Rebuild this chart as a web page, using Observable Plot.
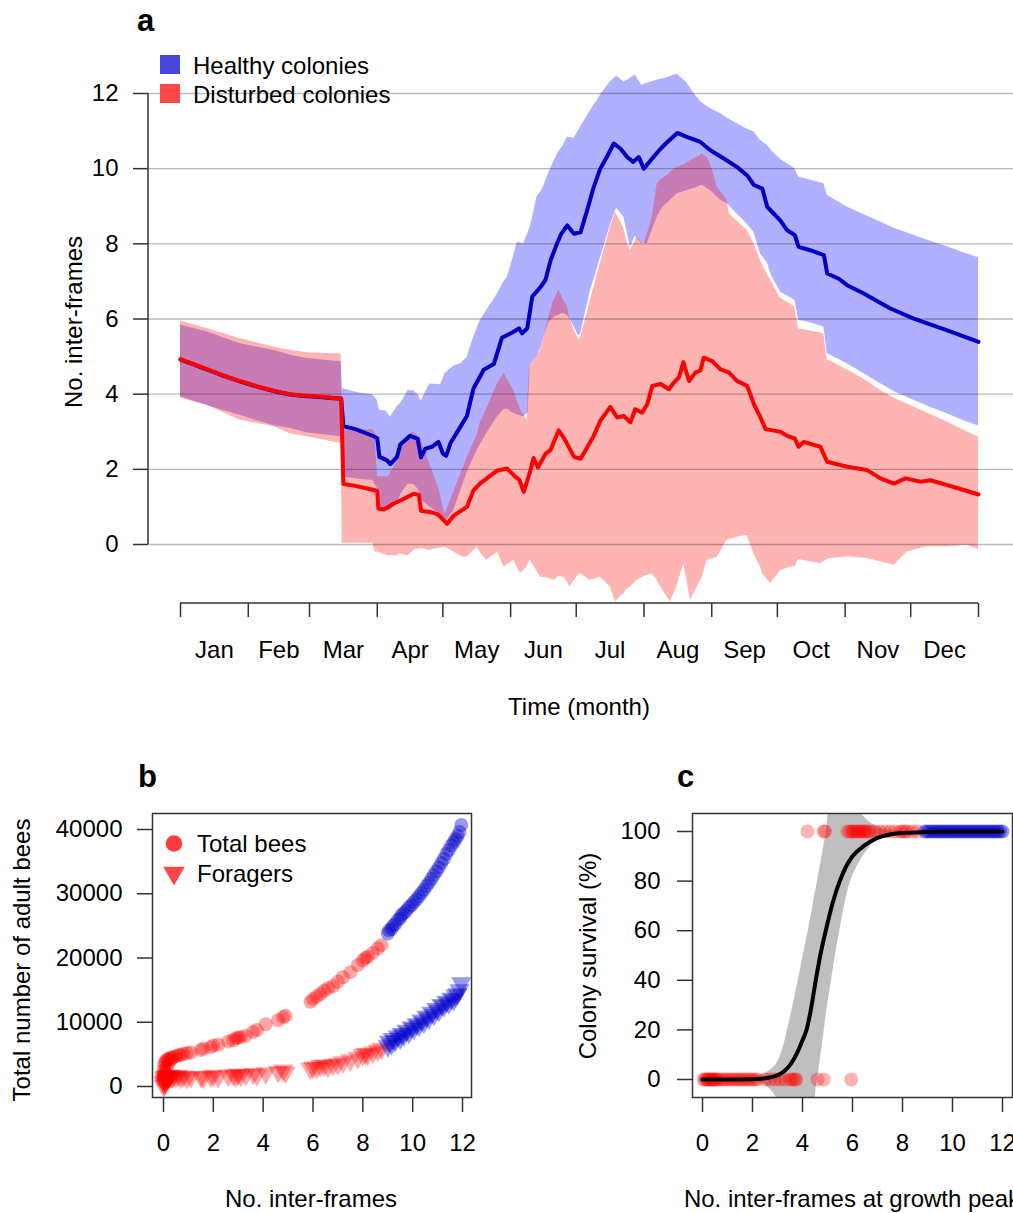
<!DOCTYPE html>
<html><head><meta charset="utf-8">
<script src="https://cdn.jsdelivr.net/npm/d3@7"></script>
<script src="https://cdn.jsdelivr.net/npm/@observablehq/plot@0.6"></script>
<style>
html,body{margin:0;padding:0;background:#fff;overflow:hidden;}
#wrap{position:relative;width:1013px;height:1213px;overflow:hidden;background:#fff;}
#wrap svg{position:absolute;max-width:none;overflow:visible;}
</style></head><body><div id="wrap"></div>
<script>
// ---------- Panel a data ----------
const monthLabels = ["Jan","Feb","Mar","Apr","May","Jun","Jul","Aug","Sep","Oct","Nov","Dec"];
const monthStarts = [0,31,59,90,120,151,181,212,243,273,304,334,365];
const monthMids = [15.5,45,74.5,105,135.5,166,196.5,227.5,258,288.5,319,349.5];
const yTicksA = [0,2,4,6,8,10,12];

// [day, mean]
const healthyMean = [[0,4.92],[5,4.81],[10,4.70],[15,4.59],[20,4.48],[25,4.38],[30,4.29],[35,4.20],[40,4.12],[45,4.05],[50,3.99],[55,3.96],[60,3.94],[65,3.92],[70,3.89],[73.5,3.88],[74.5,3.15],[80,3.07],[88.4,2.88],[90,2.82],[91,2.33],[94.5,2.24],[96,2.14],[99,2.33],[100.6,2.67],[105,2.89],[108.5,2.81],[110,2.32],[112,2.55],[115,2.6],[118,2.73],[120,2.42],[121.5,2.36],[123.5,2.7],[128,3.13],[131,3.42],[134,4.15],[138.7,4.65],[143.3,4.8],[147,5.5],[152.4,5.66],[154.8,5.75],[156.3,5.62],[158.6,5.75],[160.9,6.6],[164.7,6.85],[167,7.05],[169.2,7.55],[171.5,7.9],[174,8.25],[176.9,8.49],[180,8.27],[183,8.31],[186,8.89],[189,9.51],[192,10.0],[195,10.31],[198.2,10.67],[201.3,10.53],[204.3,10.31],[207,10.18],[209.6,10.31],[211.9,10.0],[215,10.22],[219.6,10.53],[222,10.67],[227.2,10.95],[231.8,10.84],[237.8,10.71],[242.4,10.49],[248.5,10.27],[254.6,10.04],[259.2,9.82],[262.3,9.56],[266.1,9.47],[268.4,8.98],[271.4,8.8],[274.4,8.62],[277.5,8.36],[281,8.23],[282.7,7.92],[288,7.83],[294.3,7.70],[295.8,7.21],[301.1,7.07],[304.9,6.90],[312.5,6.68],[324.7,6.28],[335.4,6.01],[350.7,5.70],[365,5.39]];

// [day, lower, upper]
const healthyBand = [[0,3.93,5.84],[12,3.70,5.66],[27,3.44,5.35],[43,3.15,5.16],[50,3.09,5.04],[58,2.97,4.95],[73.5,2.87,4.86],[74,1.8,4.15],[80,1.75,4.05],[88,1.7,3.98],[90,1.5,3.84],[91,0.95,3.58],[94,0.91,3.55],[96,0.9,3.39],[99,1.1,3.66],[101,1.35,3.78],[104,1.6,4.09],[106.7,1.6,4.09],[109,1.45,3.96],[110,1.2,3.82],[114,1.0,4.27],[119,0.8,4.25],[121,0.6,4.55],[125,0.9,4.75],[128,1.4,4.80],[131,1.9,4.97],[134,2.3,5.50],[137,2.65,5.95],[140,2.95,6.22],[145,3.4,6.67],[148,3.6,7.0],[149.5,3.6,7.11],[152,3.5,7.6],[154,3.45,8.04],[157,3.4,8.0],[159,3.5,8.3],[160,4.75,8.44],[163,5.0,9.24],[165,5.25,9.4],[166,5.5,9.51],[168.5,5.9,9.9],[171,6.05,10.22],[173,6.1,10.45],[175,6.15,10.6],[177,6.1,10.84],[180,5.8,10.8],[182,5.55,11.0],[183,5.6,11.11],[187.5,6.75,11.54],[192,7.6,11.95],[196.6,8.5,12.31],[199.5,8.95,12.46],[202.8,8.7,12.31],[205.8,7.9,12.4],[208,8.2,12.49],[211,8.0,12.22],[213.5,8.0,12.27],[218,8.71,12.35],[221,9.0,12.4],[222.6,9.07,12.42],[227.2,9.33,12.52],[231.8,9.42,12.27],[234.8,9.47,12.0],[238.6,9.56,11.75],[242.4,9.42,11.6],[247,9.16,11.47],[250,9.07,11.35],[253,8.89,11.25],[259.2,8.53,11.05],[262.3,8.3,10.98],[265.3,7.73,10.75],[268.4,7.5,10.62],[270,7.2,10.5],[274.4,6.72,10.25],[281,6.5,10.0],[282.7,5.97,9.78],[288,5.9,9.7],[294.3,5.79,9.6],[295.8,5.08,9.29],[304.9,4.81,8.98],[312.5,4.55,8.78],[320.2,4.28,8.58],[327,4.05,8.4],[335.4,3.84,8.23],[343,3.65,8.07],[350.7,3.48,7.92],[358,3.3,7.77],[365,3.15,7.63]];

const disturbedMean = [[0,4.93],[5,4.82],[10,4.71],[15,4.60],[20,4.49],[25,4.39],[30,4.30],[35,4.21],[40,4.13],[45,4.06],[50,4.00],[55,3.97],[60,3.95],[65,3.93],[70,3.90],[73.5,3.89],[74.5,1.61],[80,1.56],[88.4,1.45],[90,1.42],[90.5,0.96],[93,0.93],[95,1.0],[97.6,1.09],[100.6,1.17],[103.7,1.26],[106.7,1.35],[109,1.32],[110,0.90],[114.4,0.86],[117.5,0.81],[119,0.73],[122,0.55],[125,0.77],[131,1.0],[134,1.44],[137,1.62],[141,1.8],[145,1.97],[149.4,2.02],[153.2,1.8],[155,1.72],[157,1.4],[160,1.96],[161.5,2.3],[163.5,2.05],[167,2.42],[169.2,2.51],[173,3.04],[176,2.77],[180,2.33],[183,2.28],[186,2.58],[189,2.89],[192,3.29],[196.6,3.66],[199.7,3.38],[202.8,3.42],[205.8,3.25],[208,3.6],[211.2,3.51],[213.5,3.73],[215.8,4.22],[219.6,4.27],[223.4,4.13],[225.7,4.31],[228,4.45],[230,4.85],[232.6,4.35],[235.6,4.58],[237.8,4.63],[239.3,4.97],[243.2,4.88],[247,4.66],[250.8,4.58],[254.6,4.35],[259.2,4.22],[262.3,3.73],[265.3,3.38],[267.6,3.07],[271.4,3.03],[274.4,3.0],[277.5,2.89],[281,2.82],[282.7,2.6],[285,2.73],[292.7,2.6],[295.8,2.2],[304.9,2.07],[314,1.98],[320.2,1.76],[326.3,1.62],[331.6,1.76],[338.5,1.67],[343,1.71],[350.7,1.58],[358.3,1.45],[365,1.33]];

const disturbedBand = [[0,3.89,5.95],[12,3.71,5.75],[27,3.31,5.48],[43,3.13,5.25],[50,2.95,5.17],[58,2.87,5.1],[73.5,2.69,5.07],[74,0.03,3.05],[88,0.03,3.05],[89,-0.2,3.0],[90,-0.2,1.8],[95,-0.3,1.8],[99,-0.3,2.2],[100.6,-0.25,2.5],[104,-0.3,2.9],[106.7,-0.16,3.0],[110,-0.1,2.8],[114,-0.16,2.14],[118,-0.1,1.52],[121,-0.07,0.8],[125,-0.2,1.4],[129.5,-0.34,2.06],[131,-0.34,2.3],[135.7,-0.07,2.9],[137,-0.2,3.22],[140,-0.42,3.6],[145,-0.2,4.28],[148,-0.6,4.55],[152.4,-0.42,4.1],[155.5,-0.78,3.6],[158.5,-0.6,3.3],[159.5,-0.45,4.6],[160,-0.42,4.73],[164.7,-0.87,5.17],[168.5,-0.9,6.06],[170.8,-0.96,6.5],[173,-0.85,6.77],[175.3,-0.87,6.5],[177,-1.0,6.33],[178,-1.13,6.0],[182.2,-0.8,5.44],[183,-0.78,5.5],[187.5,-0.96,6.5],[192,-0.87,7.48],[196.6,-1.13,8.44],[199,-1.53,8.84],[201,-1.4,8.62],[202.8,-1.31,8.4],[204,-1.2,8.09],[205.8,-1.13,7.82],[208.8,-0.96,8.18],[212,-0.85,7.96],[215.8,-0.78,8.71],[218,-0.95,9.6],[219.6,-1.13,9.7],[222.6,-1.4,9.82],[224,-1.53,9.9],[227,-1.13,10.04],[230.2,-0.51,10.1],[233.3,-1.49,10.22],[237.8,-0.96,10.35],[238.6,-0.9,10.4],[240.9,-0.42,10.3],[242.4,-0.4,10.13],[245.5,-0.34,9.51],[250,0.11,9.16],[251,0.12,8.8],[254.6,0.19,8.6],[259.2,0.24,8.36],[262.3,-0.25,8.0],[265.3,-0.6,7.56],[266.1,-0.78,7.45],[270,-1.04,7.02],[274.4,-0.7,6.55],[279,-0.6,6.4],[281,-0.59,6.32],[282.7,-0.4,5.74],[292.7,-0.51,5.63],[294.3,-0.45,5.61],[295.8,-0.4,4.9],[297.3,-0.37,4.88],[304.9,-0.33,4.64],[306.5,-0.33,4.6],[314,-0.37,4.35],[320.2,-0.46,4.1],[326.3,-0.55,3.9],[332.4,-0.2,3.74],[335.4,-0.15,3.66],[341.5,-0.06,3.5],[350.7,-0.06,3.26],[359.8,-0.02,3.0],[365,-0.13,2.86]];

// ---------- Panel b data ----------
const bTicksX = [0,2,4,6,8,10,12];
const bTicksY = [0,10000,20000,30000,40000];
const disturbedFrames = [0.0,0.0,0.02,0.03,0.05,0.05,0.08,0.1,0.12,0.15,0.18,0.2,0.25,0.3,0.35,0.4,0.5,0.6,0.7,0.8,0.95,1.1,1.5,1.6,1.9,2.0,2.2,2.6,2.8,2.9,3.0,3.1,3.3,3.6,3.75,4.1,4.6,4.8,4.9,5.9,6.0,6.15,6.3,6.45,6.6,6.8,7.0,7.2,7.5,7.8,8.0,8.1,8.2,8.4,8.6,8.75];
const disturbedTotal = [900,1800,2500,3200,1400,3700,2200,4000,2900,4200,3500,4300,4000,4500,4300,4600,4700,4900,4900,5100,5200,5300,5700,5900,6100,6400,6500,7000,7200,7500,7600,7700,7900,8500,8800,9700,10300,10800,11000,13200,13600,14000,14400,14900,15300,15600,16300,17000,17800,18900,19600,20000,20200,20800,21500,22000];
const disturbedForagers = [100,600,900,1300,300,1500,700,1600,1100,1500,1200,1600,1300,1700,1400,1600,1500,1700,1400,1600,1300,1500,1500,1400,1600,1700,1500,1700,1800,1600,1900,1700,1800,2000,1800,2100,2300,2500,2200,2800,3000,2900,3200,3300,3100,3400,3500,3800,4100,4500,4900,5100,5000,5300,5600,5900];
const healthyFrames = [9.0,9.05,9.15,9.2,9.3,9.4,9.5,9.55,9.65,9.75,9.85,9.95,10.05,10.15,10.25,10.35,10.45,10.55,10.65,10.75,10.85,10.95,11.05,11.15,11.25,11.35,11.45,11.55,11.65,11.72,11.8,11.88,11.95];
const healthyTotal = [23800,24300,24500,25000,25300,25900,26200,26700,27000,27400,27900,28200,28700,29100,29600,30100,30600,31200,31700,32300,32900,33500,34100,34800,35400,36200,36800,37500,38000,38500,39000,39600,40700];
const healthyForagers = [6300,7000,6600,7400,7100,7800,7500,8200,8000,8700,8400,9200,9000,9700,9500,10300,10000,10900,10600,11500,11200,12100,11800,12700,12500,13200,13000,13700,13500,14200,14400,15000,16100];

// ---------- Panel c data ----------
const cTicksX = [0,2,4,6,8,10,12];
const cTicksY = [0,20,40,60,80,100];
const diedDisturbedX = [0.05,0.1,0.15,0.2,0.25,0.3,0.35,0.4,0.45,0.5,0.55,0.6,0.7,0.8,0.9,1.0,1.1,1.2,1.3,1.4,1.5,1.6,1.7,1.8,1.9,2.0,2.1,2.2,2.5,2.7,2.9,3.1,3.3,3.5,3.6,3.7,3.75,4.6,4.85,5.95];
const survivedDisturbedX = [4.2,4.85,4.9,5.8,5.9,6.0,6.05,6.15,6.2,6.3,6.35,6.45,6.5,6.6,6.7,6.9,7.1,7.3,7.5,7.7,7.9,8.0,8.1,8.2,8.4,8.6];
const survivedHealthyX = [8.9,9.0,9.1,9.2,9.3,9.4,9.5,9.6,9.7,9.8,9.9,10.0,10.1,10.2,10.3,10.4,10.5,10.6,10.7,10.8,10.9,11.0,11.1,11.2,11.3,11.4,11.5,11.6,11.7,11.8,11.9,12.0];
const fitX = [0,1,2,2.5,3,3.25,3.5,3.75,4,4.16,4.35,4.53,4.73,4.93,5.2,5.49,5.75,6.0,6.5,7,7.5,8,9,10,11,12];
const fitY = [0,0,0.1,0.5,1.7,3.2,5.8,10,15.8,20,29,40,51,60,71,80,86,90,94.5,97.4,98.8,99.4,99.8,100,100,100];
// [x, lower, upper] of the confidence band
const fitBand = [[0,-0.2,0.2],[1,-0.3,0.4],[2,-0.6,1.2],[2.33,-1.2,1.8],[2.6,-3,3],[2.8,-5,4.5],[3.0,-8,7],[3.2,-11,12],[3.4,-14,20],[3.6,-17,29],[3.83,-18,40],[4.03,-16,50],[4.23,-13,60],[4.42,-10,70],[4.5,-8,75],[4.55,-3,77],[4.6,0,80],[4.78,13,90],[4.87,20,95],[4.96,27,100],[5.05,33,108.5],[5.16,40,111],[5.49,60,113],[5.93,80,111],[6.33,88.5,107.3],[6.6,92.5,104.5],[6.8,95,103],[7.2,98,101],[7.4,99,100.6],[8,99.7,100.2],[9,100,100],[12,100,100]];

// ---------- helpers ----------
const FONT = "'Liberation Sans', Arial, Helvetica, sans-serif";
const wrap = document.getElementById("wrap");
const place = (svg, left, top) => { svg.style.left = left + "px"; svg.style.top = top + "px"; wrap.appendChild(svg); return d3.select(svg); };
function txt(sel, x, y, s, o = {}) {
  const t = sel.append("text").attr("x", x).attr("y", y).text(s)
    .attr("font-family", FONT).attr("font-size", o.size || 24)
    .attr("font-weight", o.weight || "normal").attr("fill", "#000")
    .attr("text-anchor", o.anchor || "start");
  if (o.rotate) t.attr("transform", `rotate(-90 ${x} ${y})`);
  return t;
}
const triangleDown = { draw(ctx, size) { const y = -Math.sqrt(size / (Math.sqrt(3) * 3)); const s3 = Math.sqrt(3);
  ctx.moveTo(0, -y * 2); ctx.lineTo(-s3 * y, y); ctx.lineTo(s3 * y, y); ctx.closePath(); } };
const baseStyle = {fontFamily: FONT, fontSize: "24px", color: "#000", background: "transparent", overflow: "visible"};

// ---------- Panel a ----------
const hm = healthyMean.map(([d, v]) => ({d, v}));
const dm = disturbedMean.map(([d, v]) => ({d, v}));
const hb = healthyBand.map(([d, lo, hi]) => ({d, lo, hi}));
const db = disturbedBand.map(([d, lo, hi]) => ({d, lo, hi}));

const A_LEFT = 148, A_AXIS = 603;
const plotA = Plot.plot({
  width: 1013, height: 730, marginLeft: A_LEFT, marginRight: 0, marginTop: 0, marginBottom: 730 - A_AXIS,
  x: {domain: [0, 365], range: [180, 978]},
  y: {domain: [0, 12], range: [544, 93]},
  style: baseStyle,
  marks: [
    Plot.areaY(hb, {x: "d", y1: "lo", y2: "hi", fill: "#0000ff", fillOpacity: 0.31}),
    Plot.areaY(db, {x: "d", y1: "lo", y2: "hi", fill: "#ff0000", fillOpacity: 0.295}),
    Plot.gridY({ticks: yTicksA, stroke: "#000", strokeOpacity: 0.27, strokeWidth: 1.4}),
    Plot.line(hm, {x: "d", y: "v", stroke: "#0000c4", strokeWidth: 4, strokeLinejoin: "round"}),
    Plot.line(dm, {x: "d", y: "v", stroke: "#ff0000", strokeWidth: 4, strokeLinejoin: "round"}),
    Plot.axisY({ticks: yTicksA, tickSize: 15, tickPadding: 15, tickFormat: d => String(d), label: null, stroke: "#333", strokeWidth: 1.5}),
    Plot.axisX({ticks: monthStarts, tickSize: 14, tickFormat: () => "", label: null, stroke: "#333", strokeWidth: 1.5}),
    Plot.axisX({ticks: monthMids, tickSize: 0, tickPadding: 37, tickFormat: d => monthLabels[monthMids.indexOf(d)], label: null})
  ]
});
const sA = place(plotA, 0, 0);
{
  const xs = plotA.scale("x"), ys = plotA.scale("y");
  sA.append("line").attr("x1", A_LEFT).attr("x2", A_LEFT).attr("y1", ys.apply(0)).attr("y2", ys.apply(12)).attr("stroke", "#333").attr("stroke-width", 1.5);
  sA.append("line").attr("x1", xs.apply(0)).attr("x2", xs.apply(365)).attr("y1", A_AXIS).attr("y2", A_AXIS).attr("stroke", "#333").attr("stroke-width", 1.5);
  txt(sA, 579, 715, "Time (month)", {anchor: "middle"});
  txt(sA, 82, 322, "No. inter-frames", {anchor: "middle", rotate: true});
  txt(sA, 137, 31, "a", {size: 31, weight: "bold"});
  sA.append("rect").attr("x", 160).attr("y", 55).attr("width", 20).attr("height", 19).attr("fill", "#4646de");
  sA.append("rect").attr("x", 160).attr("y", 84).attr("width", 20).attr("height", 19).attr("fill", "#ff4848");
  txt(sA, 193, 74, "Healthy colonies");
  txt(sA, 193, 103, "Disturbed colonies");
}

// ---------- Panel b ----------
const redB = disturbedFrames.map((x, i) => ({x, t: disturbedTotal[i], f: disturbedForagers[i]}));
const blueB = healthyFrames.map((x, i) => ({x, t: healthyTotal[i], f: healthyForagers[i]}));
const plotB = Plot.plot({
  width: 500, height: 453, marginLeft: 152, marginRight: 29, marginTop: 53, marginBottom: 116,
  x: {domain: [0, 12], range: [163, 462]},
  y: {domain: [0, 40000], range: [326, 69]},
  style: baseStyle,
  marks: [
    Plot.dot(redB, {x: "x", y: "f", r: 7.5, symbol: triangleDown, fill: "#ff0000", fillOpacity: 0.35}),
    Plot.dot(redB, {x: "x", y: "t", r: 7, fill: "#ff0000", fillOpacity: 0.35}),
    Plot.dot(blueB, {x: "x", y: "f", r: 7.5, symbol: triangleDown, fill: "#0000cd", fillOpacity: 0.4}),
    Plot.dot(blueB, {x: "x", y: "t", r: 7, fill: "#0000cd", fillOpacity: 0.4}),
    Plot.frame({stroke: "#333", strokeWidth: 1.5}),
    Plot.axisY({ticks: bTicksY, tickSize: 15, tickPadding: 15, tickFormat: "d", label: null, stroke: "#333", strokeWidth: 1.5}),
    Plot.axisX({ticks: bTicksX, tickSize: 15, tickPadding: 21, tickFormat: "d", label: null, stroke: "#333", strokeWidth: 1.5})
  ]
});
const sB = place(plotB, 0, 760);
{
  txt(sB, 138, 27, "b", {size: 31, weight: "bold"});
  sB.append("circle").attr("cx", 174).attr("cy", 83.5).attr("r", 8.3).attr("fill", "#ff3c3c");
  sB.append("path").attr("d", d3.symbol().type(triangleDown).size(Math.PI * 8 * 8)()).attr("transform", "translate(174,113)").attr("fill", "#ff4646");
  txt(sB, 197, 92, "Total bees");
  txt(sB, 197, 122, "Foragers");
  txt(sB, 311, 447, "No. inter-frames", {anchor: "middle"});
  txt(sB, 30, 200, "Total number of adult bees", {anchor: "middle", rotate: true});
}

// ---------- Panel c ----------
const cb = fitBand.map(([x, lo, hi]) => ({x, lo, hi}));
const fit = fitX.map((x, i) => ({x, y: fitY[i]}));
const died = diedDisturbedX.map(x => ({x, s: 0}));
const survR = survivedDisturbedX.map(x => ({x, s: 100}));
const survB = survivedHealthyX.map(x => ({x, s: 100}));
const plotC = Plot.plot({
  width: 460, height: 453, marginLeft: 132, marginRight: 8, marginTop: 53, marginBottom: 116,
  x: {domain: [0, 12], range: [142, 442]},
  y: {domain: [0, 100], range: [319, 71]},
  style: baseStyle,
  marks: [
    Plot.areaY(cb, {x: "x", y1: "lo", y2: "hi", fill: "#000", fillOpacity: 0.25, curve: "catmull-rom", clip: true}),
    Plot.dot(died, {x: "x", y: "s", r: 7, fill: "#ff0000", fillOpacity: 0.3}),
    Plot.dot(survR, {x: "x", y: "s", r: 7, fill: "#ff0000", fillOpacity: 0.3}),
    Plot.dot(survB, {x: "x", y: "s", r: 7, fill: "#0000cd", fillOpacity: 0.4}),
    Plot.line(fit, {x: "x", y: "y", stroke: "#000", strokeWidth: 4, curve: "monotone-x"}),
    Plot.frame({stroke: "#333", strokeWidth: 1.5}),
    Plot.axisY({ticks: cTicksY, tickSize: 15, tickPadding: 17, tickFormat: "d", label: null, stroke: "#333", strokeWidth: 1.5}),
    Plot.axisX({ticks: cTicksX, tickSize: 15, tickPadding: 21, tickFormat: "d", label: null, stroke: "#333", strokeWidth: 1.5})
  ]
});
const sC = place(plotC, 560, 760);
{
  txt(sC, 117, 27, "c", {size: 31, weight: "bold"});
  txt(sC, 292, 447, "No. inter-frames at growth peak", {anchor: "middle"});
  txt(sC, 36, 196, "Colony survival (%)", {anchor: "middle", rotate: true});
}
</script></body></html>
